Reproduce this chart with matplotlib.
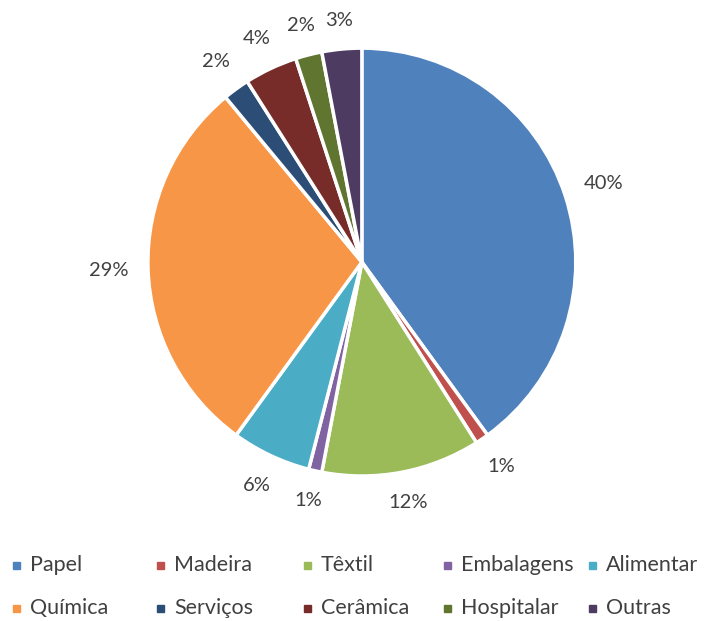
import numpy as np
import matplotlib.pyplot as plt
from matplotlib.patches import Rectangle

plt.rcParams['font.family'] = ['Lato', 'DejaVu Sans']

sectors = ['Papel', 'Madeira', 'Têxtil', 'Embalagens', 'Alimentar',
           'Química', 'Serviços', 'Cerâmica', 'Hospitalar', 'Outras']
shares = [40, 1, 12, 1, 6, 29, 2, 4, 2, 3]
colors = ['#4F81BD', '#C0504D', '#9BBB59', '#8064A2', '#4BACC6',
          '#F79646', '#2C4D75', '#772C2A', '#5F7530', '#4D3B62']
txt_color = '#404040'

W, H = 704, 621
fig = plt.figure(figsize=(W / 100, H / 100), dpi=100)
ax = fig.add_axes([0.210, 0.2335, 0.608, 0.689])

wedges, _ = ax.pie(shares, colors=colors, startangle=90, counterclock=False,
                   wedgeprops=dict(edgecolor='white', linewidth=2.5))
ax.set_aspect('equal')
ax.set_xlim(-1, 1)
ax.set_ylim(-1, 1)

# data labels "outside end": box edge a fixed gap away from the rim
fig.canvas.draw()
renderer = fig.canvas.get_renderer()
px_per_unit = ax.get_window_extent().width / 2
gap = 19
for w, v in zip(wedges, shares):
    ang = np.deg2rad((w.theta1 + w.theta2) / 2)
    t = ax.text(0, 0, f'{v}%', ha='center', va='center',
                fontsize=14.5, color=txt_color)
    bb = t.get_window_extent(renderer)
    d = px_per_unit + gap + bb.width / 2 * abs(np.cos(ang)) \
        + bb.height / 2 * abs(np.sin(ang))
    d /= px_per_unit
    t.set_position((d * np.cos(ang), d * np.sin(ang)))

# legend, two rows of five as in the original
col_x = [13, 157, 304, 444, 589]
row_y = [565, 608]
for i, (name, c) in enumerate(zip(sectors, colors)):
    x = col_x[i % 5]
    y = row_y[i // 5]
    fig.add_artist(Rectangle(((x) / W, 1 - (y + 3.5) / H), 7 / W, 7 / H,
                             transform=fig.transFigure, color=c))
    fig.text((x + 17) / W, 1 - y / H, name, ha='left', va='center',
             fontsize=15.5, color=txt_color)

fig.savefig('out.png', dpi=100, facecolor='white')
